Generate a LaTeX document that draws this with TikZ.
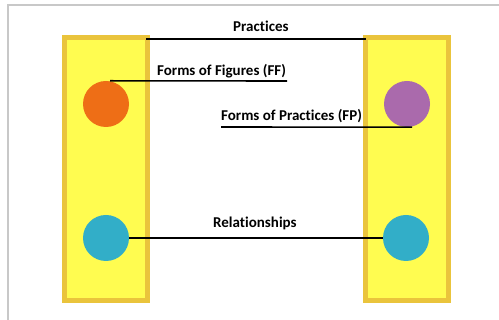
\documentclass[tikz,border=0pt]{standalone}
\usepackage{fontspec}
\setmainfont{Carlito}[Ligatures=NoCommon]
\definecolor{frame}{RGB}{200,200,200}
\definecolor{gold}{RGB}{234,196,60}
\definecolor{yel}{RGB}{255,252,80}
\definecolor{orng}{RGB}{238,110,22}
\definecolor{purp}{RGB}{170,106,172}
\definecolor{cyn}{RGB}{50,174,200}
\begin{document}
\begin{tikzpicture}[x=1pt,y=-1pt,
  bar/.style={draw=gold,fill=yel,line width=5pt},
  dot/.style={circle,minimum size=46pt,inner sep=0pt},
  lbl/.style={font=\bfseries\fontsize{15}{17}\selectfont,inner sep=0pt,anchor=base west},
  conn/.style={draw=black,line width=1.6pt}]
\useasboundingbox (0,0) rectangle (499,320);
\fill[white] (0,0) rectangle (499,320);
\draw[frame,line width=1.2pt] (8,320) -- (8,5) -- (499,5);
\draw[bar] (64.5,37.5) rectangle (147.5,300.5);
\draw[bar] (365.5,37.5) rectangle (448.5,300.5);
\node[dot,fill=orng] (ff) at (106,104) {};
\node[dot,fill=purp] (fp) at (407,104) {};
\node[dot,fill=cyn] (rl) at (106,238) {};
\node[dot,fill=cyn] (rr) at (406,238) {};
\node[lbl] (tp) at (233,32) {Practices};
\node[lbl] (tff) at (157,76) {Forms of Figures (FF)};
\node[lbl] (tfp) at (221,121) {Forms of Practices (FP)};
\node[lbl] (trl) at (213,228) {Relationships};
\coordinate (p1) at (146,39);
\coordinate (p2) at (366,39);
\coordinate (f2) at (287,81);
\coordinate (q1) at (221,127);
\draw[conn] (p1) -- (p2);
\draw[conn] ([xshift=4pt]ff.north) -- (f2);
\draw[conn] (q1) -- ([xshift=5pt]fp.south);
\draw[conn] (rl.east) -- (rr.west);
\end{tikzpicture}
\end{document}
